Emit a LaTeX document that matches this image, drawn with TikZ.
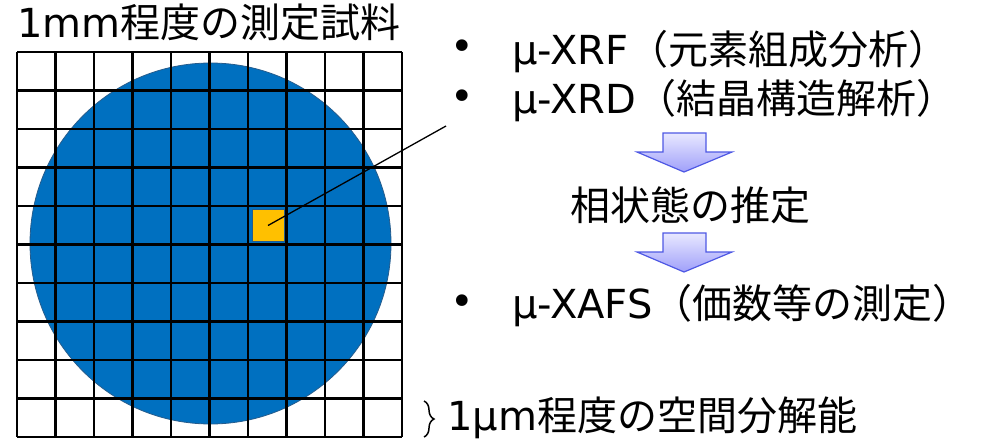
\documentclass[tikz,border=0pt]{standalone}
\usepackage{fontspec}
\setmainfont{DejaVu Sans}
\newfontfamily\jpfont{Noto Sans CJK JP}
\usetikzlibrary{positioning,decorations.pathreplacing}
\definecolor{diskcol}{RGB}{0,112,192}
\definecolor{diskedge}{RGB}{38,92,140}
\definecolor{spotcol}{RGB}{255,192,0}
\definecolor{arrowedge}{RGB}{78,88,228}
\definecolor{arrowtop}{RGB}{232,232,255}
\definecolor{arrowbot}{RGB}{160,160,250}

\begin{document}
\begin{tikzpicture}[
    x=1pt, y=-1pt,
    txt/.style={font=\fontsize{40}{48}\selectfont, inner sep=0pt},
    gridline/.style={line width=2.6pt, black},
    blockarrow/.style={draw=arrowedge, line width=1.2pt, top color=arrowtop, bottom color=arrowbot, line join=miter},
    spot/.style={rectangle, minimum size=32pt, inner sep=0pt, fill=spotcol, draw=diskedge, line width=0.6pt},
]
\useasboundingbox (0,0) rectangle (984,439);

% sample disk and measuring grid
\fill[diskcol, draw=diskedge, line width=0.8pt] (210.5,243.5) circle[radius=180.5];
\foreach \i in {0,...,10} {
  \draw[gridline] ({17+38.5*\i},52) -- ({17+38.5*\i},437);
  \draw[gridline] (17,{52+38.5*\i}) -- (402,{52+38.5*\i});
}
\node[spot] (spot) at (268,225.5) {};

\node[txt, anchor=base] (title) at (209,37) {1mm{\jpfont 程度の測定試料}};

% methods
\node[txt] (b1) at (462,50) {•};
\node[txt] (b2) at (462,100) {•};
\node[txt] (b3) at (462,305) {•};
\node[txt, anchor=base west] (xrf) at (512,64) {μ-XRF{\jpfont （元素組成分析）}};
\node[txt, anchor=base west] (xrd) at (512,113) {μ-XRD{\jpfont （結晶構造解析）}};
\node[txt, anchor=base] (phase) at (690,220) {\jpfont 相状態の推定};
\node[txt, anchor=base west] (xafs) at (512,318) {μ-XAFS{\jpfont （価数等の測定）}};

\foreach \y in {133,233}
  \draw[blockarrow] (663,\y) -- (706,\y) -- (706,\y+19) -- (732,\y+19) -- (684,\y+39) -- (637,\y+19) -- (663,\y+19) -- cycle;

\coordinate (lineend) at (446,126);
\draw[line width=1.3pt] (spot.center) -- (lineend);

% resolution
\draw[decorate, decoration={brace, amplitude=10pt}, line width=1.5pt] (424,401) -- (424,437);
\node[txt, anchor=base west] (res) at (447,430) {1μm{\jpfont 程度の空間分解能}};
\end{tikzpicture}
\end{document}
